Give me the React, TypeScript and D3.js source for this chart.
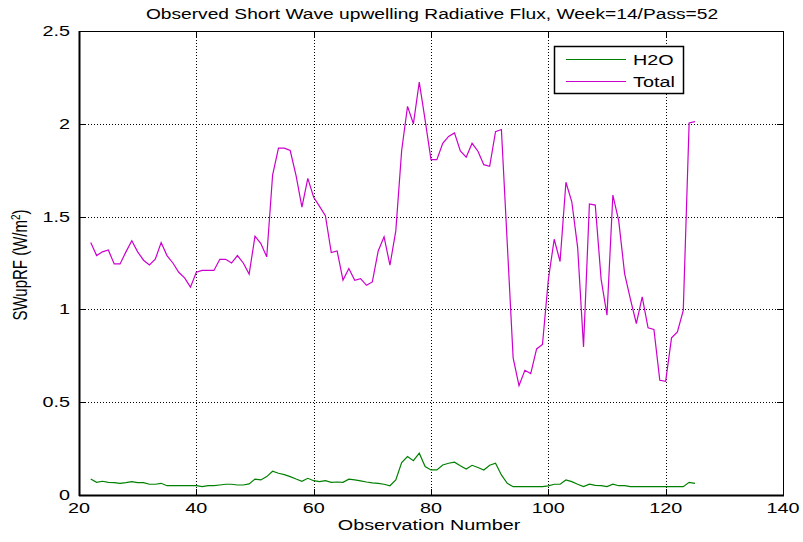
import React, { useEffect, useRef } from "react";
import * as d3 from "d3";

const xStart = 22;
const totalValues = [
  1.36, 1.29, 1.31, 1.32, 1.245, 1.245, 1.31, 1.37, 1.31, 1.265,
  1.24, 1.27, 1.36, 1.29, 1.25, 1.2, 1.17, 1.12, 1.2, 1.21,
  1.21, 1.21, 1.27, 1.27, 1.25, 1.29, 1.25, 1.19, 1.395, 1.355,
  1.283, 1.724, 1.869, 1.869, 1.856, 1.721, 1.551, 1.706, 1.604, 1.555,
  1.505, 1.306, 1.315, 1.158, 1.22, 1.157, 1.166, 1.13, 1.148, 1.315,
  1.391, 1.238, 1.423, 1.856, 2.094, 2.0, 2.225, 2.02, 1.807, 1.807,
  1.895, 1.932, 1.951, 1.854, 1.82, 1.895, 1.852, 1.78, 1.771, 1.958,
  1.969, 1.355, 0.739, 0.589, 0.672, 0.654, 0.787, 0.811, 1.16, 1.378,
  1.258, 1.685, 1.58, 1.333, 0.798, 1.568, 1.562, 1.162, 0.969, 1.616,
  1.477, 1.193, 1.054, 0.924, 1.067, 0.901, 0.892, 0.618, 0.613, 0.847,
  0.879, 0.995, 2.005, 2.012,
];
const h2oValues = [
  0.086, 0.068, 0.074, 0.068, 0.067, 0.063, 0.067, 0.072, 0.067, 0.067,
  0.058, 0.058, 0.063, 0.05, 0.05, 0.05, 0.05, 0.05, 0.05, 0.045,
  0.05, 0.05, 0.054, 0.058, 0.058, 0.054, 0.054, 0.06, 0.086, 0.081,
  0.099, 0.128, 0.117, 0.11, 0.099, 0.086, 0.074, 0.09, 0.077, 0.072,
  0.077, 0.068, 0.07, 0.068, 0.085, 0.081, 0.076, 0.07, 0.065, 0.063,
  0.058, 0.05, 0.081, 0.175, 0.207, 0.185, 0.225, 0.153, 0.135, 0.135,
  0.162, 0.171, 0.177, 0.158, 0.14, 0.16, 0.148, 0.135, 0.16, 0.171,
  0.108, 0.063, 0.045, 0.045, 0.045, 0.045, 0.045, 0.045, 0.049, 0.058,
  0.058, 0.081, 0.072, 0.058, 0.045, 0.058, 0.052, 0.05, 0.045, 0.058,
  0.05, 0.05, 0.045, 0.045, 0.045, 0.045, 0.045, 0.045, 0.045, 0.045,
  0.045, 0.045, 0.068, 0.063,
];
const xTicks = [20, 40, 60, 80, 100, 120, 140];
const yTicks = [0, 0.5, 1, 1.5, 2, 2.5];
const seriesNames = ["H2O", "Total"];
const seriesColors = ["#008000", "#cc00cc"];
const titleText = "Observed Short Wave upwelling Radiative Flux, Week=14/Pass=52";
const xLabel = "Observation Number";

export default function App() {
  const ref = useRef<SVGSVGElement>(null);
  useEffect(() => {
    const svg = d3.select(ref.current);
    svg.selectAll("*").remove();
    const left = 79, right = 783, top = 31, bottom = 495;
    const x = d3.scaleLinear().domain([20, 140]).range([left, right]);
    const y = d3.scaleLinear().domain([0, 2.5]).range([bottom, top]);
    const font = "'Liberation Sans', Arial, sans-serif";
    const sx = 1.32;

    const addText = (tx: number, ty: number, s: string, size: number, anchor: string, scale = sx) =>
      svg.append("text").attr("transform", `translate(${tx},${ty}) scale(${scale},1)`)
        .attr("text-anchor", anchor).attr("font-family", font).attr("font-size", size)
        .attr("fill", "#000").text(s);

    svg.append("rect").attr("width", 803).attr("height", 542).attr("fill", "#fff");

    // grid
    const grid = svg.append("g").attr("stroke", "#000").attr("stroke-width", 1).attr("stroke-dasharray", "1,2");
    xTicks.slice(1, -1).forEach((t) => {
      grid.append("line").attr("x1", Math.round(x(t)) + 0.5).attr("x2", Math.round(x(t)) + 0.5).attr("y1", top).attr("y2", bottom);
    });
    yTicks.slice(1, -1).forEach((t) => {
      grid.append("line").attr("y1", Math.round(y(t)) + 0.5).attr("y2", Math.round(y(t)) + 0.5).attr("x1", left).attr("x2", right);
    });

    // lines
    const series = [h2oValues, totalValues];
    series.forEach((vals, i) => {
      const line = d3.line<number>().x((_, j) => x(xStart + j)).y((d) => y(d));
      svg.append("path").attr("d", line(vals) as string).attr("fill", "none")
        .attr("stroke", seriesColors[i]).attr("stroke-width", 1.2);
    });

    // box
    svg.append("rect").attr("x", left + 0.5).attr("y", top + 0.5).attr("width", right - left).attr("height", bottom - top)
      .attr("fill", "none").attr("stroke", "#000").attr("stroke-width", 1);
    svg.append("line").attr("x1", left).attr("x2", right + 1).attr("y1", bottom + 0.5).attr("y2", bottom + 0.5)
      .attr("stroke", "#000").attr("stroke-width", 2);
    svg.append("line").attr("x1", left + 0.5).attr("x2", left + 0.5).attr("y1", top).attr("y2", bottom + 1)
      .attr("stroke", "#000").attr("stroke-width", 2);

    // ticks
    const tk = svg.append("g").attr("stroke", "#000").attr("stroke-width", 1);
    xTicks.forEach((t) => {
      const px = Math.round(x(t)) + 0.5;
      tk.append("line").attr("x1", px).attr("x2", px).attr("y1", bottom).attr("y2", bottom - 6);
      tk.append("line").attr("x1", px).attr("x2", px).attr("y1", top).attr("y2", top + 6);
    });
    yTicks.forEach((t) => {
      const py = Math.round(y(t)) + 0.5;
      tk.append("line").attr("x1", left).attr("x2", left + 6).attr("y1", py).attr("y2", py);
      tk.append("line").attr("x1", right).attr("x2", right - 6).attr("y1", py).attr("y2", py);
    });

    // tick labels
    xTicks.forEach((t) => addText(x(t), bottom + 18, String(t), 15, "middle"));
    yTicks.forEach((t) => addText(left - 9, y(t) + 5, String(t), 15, "end"));

    // title and labels
    addText((left + right) / 2 + 1, 19, titleText, 14, "middle", 1.37);
    addText((left + right) / 2 - 2, 530, xLabel, 15, "middle");
    const yl = svg.append("text").attr("transform", `translate(27, ${(top + bottom) / 2 + 2}) rotate(-90) scale(1, ${sx})`)
      .attr("text-anchor", "middle").attr("font-family", font).attr("font-size", 15).attr("fill", "#000");
    yl.append("tspan").text("SWupRF (W/m");
    yl.append("tspan").attr("dy", -5).attr("font-size", 10).text("2");
    yl.append("tspan").attr("dy", 5).text(")");

    // legend
    const lg = svg.append("g");
    lg.append("rect").attr("x", 554.5).attr("y", 46.5).attr("width", 129).attr("height", 47)
      .attr("fill", "#fff").attr("stroke", "#000").attr("stroke-width", 1.5);
    seriesNames.forEach((n, i) => {
      const ly = 59.5 + i * 22;
      lg.append("line").attr("x1", 566).attr("x2", 626).attr("y1", ly).attr("y2", ly)
        .attr("stroke", seriesColors[i]).attr("stroke-width", 1.2);
      svg.append("text").attr("transform", `translate(633,${ly + 5.5}) scale(${sx},1)`)
        .attr("font-family", font).attr("font-size", 15).attr("fill", "#000").text(n);
    });
  }, []);
  return (
    <svg ref={ref} width={803} height={542} style={{ position: "absolute", left: 0, top: 0, display: "block" }} />
  );
}
